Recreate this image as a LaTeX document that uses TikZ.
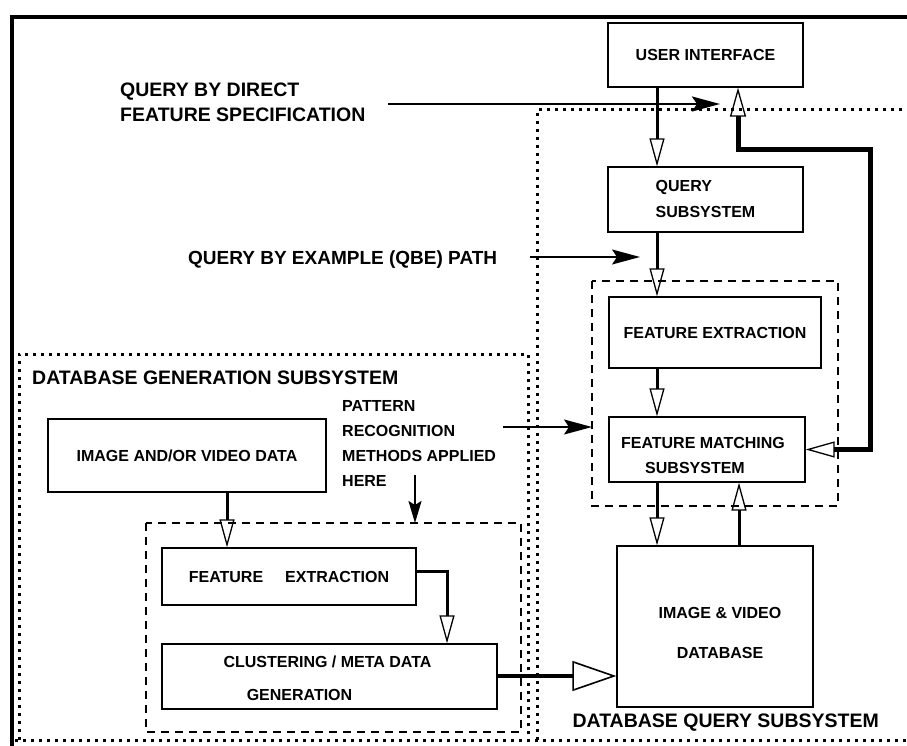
\documentclass[tikz,border=0pt]{standalone}
\usepackage{fontspec}
\setmainfont{Liberation Sans}
\usetikzlibrary{arrows.meta}
\begin{document}
\begin{tikzpicture}[x=1pt,y=-1pt,
  blk/.style={draw, line width=1.3pt, inner sep=0pt, align=center,
              font=\fontsize{16}{25}\selectfont\bfseries},
  lbl/.style={inner sep=0pt, align=left, font=\fontsize{16}{25}\selectfont\bfseries},
  biglbl/.style={inner sep=0pt, align=left, font=\fontsize{19.5}{25}\selectfont\bfseries},
  hollow/.style={line width=3pt, -{Triangle[open, length=28pt, width=15pt, line width=1.3pt]}},
  loopline/.style={line width=5pt,
     {Triangle[open, length=29pt, width=16pt, line width=1.3pt]}-{Triangle[open, length=29pt, width=16pt, line width=1.3pt]}},
  bighollow/.style={line width=3.2pt, -{Triangle[open, length=44pt, width=30pt, line width=1.6pt]}},
  filled/.style={line width=1.4pt, -{Stealth[length=28pt, width=15pt, inset=5pt]}},
  dotline/.style={line width=3pt, dash pattern=on 2.6pt off 5.4pt},
  dashline/.style={line width=1.3pt, dash pattern=on 8pt off 6pt},
  frame/.style={line width=4pt}
]
\useasboundingbox (0,0) rectangle (907,746);

% outer frame: heavy rules along the top and the left
\draw[frame] (10,17) -- (907,17);
\draw[frame] (12,15) -- (12,746);

% subsystem outlines
\draw[dotline] (15,740) -- (907,740);
\draw[dotline] (537,740) -- (537,110) -- (907,110);
\draw[dotline] (19,740) -- (19,354) -- (528,354) -- (528,740);
\draw[dashline] (592,281) rectangle (838,506);
\draw[dashline] (146,523) rectangle (521,732);

% query side blocks
\node[blk, minimum width=195pt, minimum height=64pt] (ui) at (705.5,55) {USER INTERFACE};
\node[blk, minimum width=195pt, minimum height=65pt] (qs) at (705.5,199.5)
   {\begin{tabular}{@{}l@{}}QUERY\\SUBSYSTEM\end{tabular}};
\node[blk, minimum width=212pt, minimum height=71pt] (fe1) at (715,332.5) {FEATURE EXTRACTION};
\node[blk, minimum width=196pt, minimum height=65pt,
      label={[lbl, name=fmtxt, align=center, yshift=-6pt, xshift=-4pt]center:FEATURE MATCHING\\\hspace*{-16pt}SUBSYSTEM}]
      (fm) at (707,449.5) {};
\node[blk, minimum width=196pt, minimum height=161pt,
      label={[lbl, name=dbtxt, align=center, yshift=-6.5pt, xshift=5pt]center:IMAGE \& VIDEO\\[15pt]DATABASE}]
      (db) at (715,626.5) {};

% generation side blocks
\node[blk, minimum width=278pt, minimum height=73pt] (img) at (187,455.5) {IMAGE AND/OR VIDEO DATA};
\node[blk, minimum width=254pt, minimum height=57pt] (fe2) at (289,576.5) {FEATURE\hspace{22pt}EXTRACTION};
\node[blk, minimum width=335pt, minimum height=65pt,
      label={[lbl, name=cltxt, align=center, yshift=-2pt, xshift=-2pt]center:CLUSTERING / META DATA\\[8pt]\hspace*{-56pt}GENERATION}]
      (cl) at (329.5,676.5) {};

% free labels
\node[biglbl, anchor=west] (qdlbl) at (120,102.5) {QUERY BY DIRECT\\FEATURE SPECIFICATION};
\node[biglbl, anchor=west, font=\fontsize{19}{25}\selectfont\bfseries] (qbelbl) at (188,260) {QUERY BY EXAMPLE (QBE) PATH};
\node[biglbl, anchor=west] (genlbl) at (32,378) {DATABASE GENERATION SUBSYSTEM};
\node[biglbl, anchor=east] (qrylbl) at (879,723) {DATABASE QUERY SUBSYSTEM};
\node[lbl, anchor=west] (patlbl) at (342,443) {PATTERN\\RECOGNITION\\METHODS APPLIED\\HERE};

% connector columns
\coordinate (cx) at (657,0);
\coordinate (dx) at (739,0);
\coordinate (lx) at (738,0);
\coordinate (ix) at (227,0);

% main query chain
\draw[hollow] (ui.south -| cx) -- (qs.north -| cx);
\draw[hollow] (qs.south -| cx) -- (fe1.north -| cx);
\draw[hollow] (fe1.south -| cx) -- (fm.north -| cx);
\draw[hollow] (fm.south -| cx) -- (db.north -| cx);
\draw[hollow] (db.north -| dx) -- (fm.south -| dx);

% feedback loop between matching and the user interface
\coordinate (lpa) at (738,150);
\coordinate (lpb) at (870,150);
\coordinate (lpc) at (870,449.5);
\draw[loopline] (ui.south -| lx) -- (lpa) -- (lpb) -- (lpc) -- (fm.east);

% database generation chain
\draw[hollow] (img.south -| ix) -- (fe2.north -| ix);
\coordinate (fcor) at (447,571);
\draw[hollow] (fe2.east |- fcor) -- (fcor) -- (cl.north -| fcor);
\draw[bighollow] (cl.east |- 0,676) -- (db.west |- 0,676);

% entry points
\coordinate (qdA) at (388,104);
\coordinate (qdB) at (720,104);
\draw[filled, line width=2.6pt] (qdA) -- (qdB);
\coordinate (qbeA) at (530,257);
\coordinate (qbeB) at (640,257);
\draw[filled] (qbeA) -- (qbeB);
\coordinate (prA) at (503,427);
\coordinate (prB) at (592,427);
\draw[filled] (prA) -- (prB);
\coordinate (pdA) at (415,475);
\coordinate (pdB) at (415,523);
\draw[filled, line width=2pt, -{Stealth[length=22pt, width=13pt, inset=4pt]}] (pdA) -- (pdB);
\end{tikzpicture}
\end{document}
